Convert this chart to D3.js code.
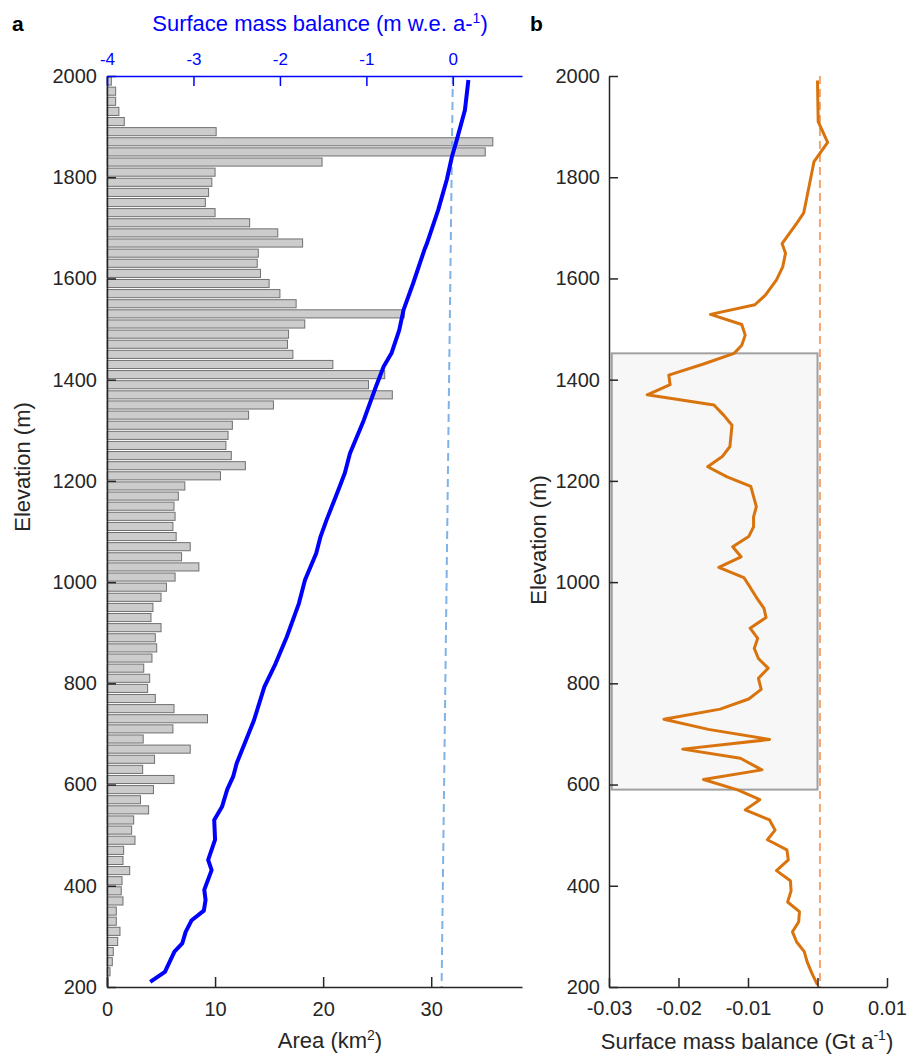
<!DOCTYPE html>
<html>
<head>
<meta charset="utf-8">
<script src="https://cdn.jsdelivr.net/npm/d3@7"></script>
<style>
  body { margin: 0; background: #fff; }
  svg { font-family: "Liberation Sans", Arial, sans-serif; }
  .tick text { fill: #262626; }
</style>
</head>
<body>
<div id="chart"></div>
<script>
// elevation bins (m, bin centres), 20 m wide
var binElev = [1990, 1970, 1950, 1930, 1910, 1890, 1870, 1850, 1830, 1810,
    1790, 1770, 1750, 1730, 1710, 1690, 1670, 1650, 1630, 1610,
    1590, 1570, 1550, 1530, 1510, 1490, 1470, 1450, 1430, 1410,
    1390, 1370, 1350, 1330, 1310, 1290, 1270, 1250, 1230, 1210,
    1190, 1170, 1150, 1130, 1110, 1090, 1070, 1050, 1030, 1010,
    990, 970, 950, 930, 910, 890, 870, 850, 830, 810,
    790, 770, 750, 730, 710, 690, 670, 650, 630, 610,
    590, 570, 550, 530, 510, 490, 470, 450, 430, 410,
    390, 370, 350, 330, 310, 290, 270, 250, 230, 210];

// glacier area per bin (km2)
var binArea = [0.4, 0.8, 0.8, 1.1, 1.6, 10.1, 35.7, 35.0, 19.9, 10.0,
    9.7, 9.4, 9.1, 10.0, 13.2, 15.8, 18.1, 14.0, 13.9, 14.2,
    15.0, 16.0, 17.5, 27.5, 18.3, 16.8, 16.7, 17.2, 20.9, 25.7,
    24.2, 26.4, 15.4, 13.1, 11.6, 11.2, 11.0, 11.5, 12.8, 10.5,
    7.2, 6.6, 6.2, 6.3, 6.1, 6.4, 7.7, 6.9, 8.5, 6.3,
    5.5, 5.0, 4.25, 4.07, 5.0, 4.47, 4.6, 4.16, 3.4, 3.95,
    3.76, 4.47, 6.2, 9.3, 6.1, 3.35, 7.7, 4.4, 3.3, 6.2,
    4.3, 3.1, 3.85, 2.47, 2.28, 2.59, 1.54, 1.48, 2.1, 1.39,
    1.32, 1.48, 0.86, 0.86, 1.2, 0.99, 0.58, 0.49, 0.28, 0.1];

// specific surface mass balance profile (m w.e. a-1)
var smbElev = [1992, 1933, 1870, 1841, 1795, 1735, 1669, 1656, 1590, 1538,
    1498, 1452, 1426, 1386, 1320, 1254, 1215, 1175, 1123, 1090,
    1057, 1004, 958, 892, 839, 793, 727, 642, 616, 590,
    556, 530, 491, 451, 431, 392, 372, 351, 332, 309,
    286, 270, 230, 210];
var smbValue = [0.18, 0.14, 0.04, -0.01, -0.07, -0.17, -0.30, -0.33, -0.46, -0.57,
    -0.62, -0.71, -0.80, -0.89, -1.03, -1.19, -1.25, -1.34, -1.46, -1.53,
    -1.58, -1.71, -1.78, -1.92, -2.05, -2.18, -2.30, -2.50, -2.54, -2.61,
    -2.67, -2.76, -2.75, -2.83, -2.79, -2.875, -2.86, -2.88, -3.02, -3.09,
    -3.13, -3.22, -3.33, -3.50];

// reference zero line of panel a (as drawn)
var zeroElev = [2000, 200];
var zeroSmb = [0, -0.13];

// total surface mass balance profile (Gt a-1)
var gtElev = [1991, 1910, 1869, 1831, 1745, 1729, 1709, 1669, 1650, 1623,
    1597, 1567, 1548, 1529, 1509, 1488, 1468, 1452, 1431, 1409,
    1390, 1370, 1350, 1330, 1310, 1268, 1248, 1228, 1208, 1189,
    1149, 1129, 1109, 1090, 1070, 1050, 1029, 1009, 990, 970,
    948, 930, 909, 889, 869, 849, 830, 810, 788, 769,
    749, 729, 709, 689, 670, 652, 629, 610, 589, 570,
    550, 530, 510, 491, 471, 451, 430, 410, 390, 368,
    349, 329, 309, 289, 270, 250, 227, 204];
var gtValue = [0.0000, 0.0001, 0.00146, -0.0005, -0.00175, -0.0020, -0.0030, -0.0051, -0.0046, -0.0050,
    -0.0059, -0.0075, -0.0090, -0.0154, -0.0109, -0.0104, -0.0109, -0.0120, -0.0164, -0.0214,
    -0.0212, -0.0245, -0.0149, -0.0135, -0.0123, -0.0126, -0.0137, -0.0158, -0.0130, -0.0096,
    -0.0088, -0.0092, -0.0092, -0.0099, -0.0122, -0.0110, -0.0142, -0.0106, -0.0097, -0.0088,
    -0.0077, -0.0074, -0.0097, -0.0086, -0.0091, -0.0085, -0.0071, -0.0085, -0.0081, -0.0099,
    -0.0140, -0.0221, -0.0157, -0.0069, -0.0194, -0.0111, -0.0080, -0.0164, -0.0114, -0.0083,
    -0.0104, -0.0069, -0.0061, -0.0072, -0.0044, -0.0042, -0.0059, -0.0039, -0.0038, -0.0043,
    -0.0026, -0.0027, -0.0036, -0.0030, -0.0019, -0.0015, -0.0008, 0.0000];

// highlighted elevation band in panel b
var bandElev = [590, 1452];
var bandGt = [-0.0296, 0];
var zeroGt = [0.00035, 0.00035];

var elevTicks = [200, 400, 600, 800, 1000, 1200, 1400, 1600, 1800, 2000];
var areaTicks = [0, 10, 20, 30];
var smbTicks = [-4, -3, -2, -1, 0];
var gtTicks = [-0.03, -0.02, -0.01, 0, 0.01];

var axisColor = "#262626";

// plain hyphen-minus like the original figure
function plain(d) { return String(d); }

var svg = d3.select("#chart")
    .append("svg")
    .attr("width", 908)
    .attr("height", 1055);

var y = d3.scaleLinear()
    .domain([200, 2000])
    .range([987, 76]);

// ---------- panel a ----------
var xArea = d3.scaleLinear().domain([0, 38.4]).range([107, 522]);
var xSmb = d3.scaleLinear().domain([-4, 0.8]).range([107, 522]);

var bars = binElev.map(function (e, i) { return { elev: e, area: binArea[i] }; });

svg.append("g")
    .selectAll("rect")
    .data(bars)
    .enter()
    .append("rect")
    .attr("x", xArea(0))
    .attr("y", function (d) { return y(d.elev + 8); })
    .attr("width", function (d) { return xArea(d.area) - xArea(0); })
    .attr("height", function (d) { return y(d.elev - 8) - y(d.elev + 8); })
    .attr("fill", "#cccccc")
    .attr("stroke", "#707070")
    .attr("stroke-width", 1);

var zeroPts = zeroElev.map(function (e, i) { return { elev: e, v: zeroSmb[i] }; });
svg.append("path")
    .datum(zeroPts)
    .attr("fill", "none")
    .attr("stroke", "#7fb3e6")
    .attr("stroke-width", 2)
    .attr("stroke-dasharray", "8,5")
    .attr("d", d3.line()
        .x(function (d) { return xSmb(d.v); })
        .y(function (d) { return y(d.elev); }));

var smbPts = smbElev.map(function (e, i) { return { elev: e, v: smbValue[i] }; });
svg.append("path")
    .datum(smbPts)
    .attr("fill", "none")
    .attr("stroke", "#0000ff")
    .attr("stroke-width", 4)
    .attr("stroke-linejoin", "round")
    .attr("d", d3.line()
        .x(function (d) { return xSmb(d.v); })
        .y(function (d) { return y(d.elev); }));

var aLeft = svg.append("g")
    .attr("transform", "translate(107,0)")
    .call(d3.axisLeft(y).tickValues(elevTicks).tickFormat(plain)
        .tickSizeInner(-9).tickSizeOuter(0).tickPadding(10));

var aBottom = svg.append("g")
    .attr("transform", "translate(0,987)")
    .call(d3.axisBottom(xArea).tickValues(areaTicks).tickFormat(plain)
        .tickSizeInner(-10).tickSizeOuter(0).tickPadding(15));

var aTop = svg.append("g")
    .attr("transform", "translate(0,76)")
    .call(d3.axisTop(xSmb).tickValues(smbTicks).tickFormat(plain)
        .tickSizeInner(-10).tickSizeOuter(0).tickPadding(11));

[aLeft, aBottom].forEach(function (g) {
    g.select(".domain").attr("stroke", axisColor).attr("stroke-width", 1.5);
    g.selectAll(".tick line").attr("stroke", axisColor).attr("stroke-width", 1.5);
    g.selectAll(".tick text").style("font-size", "20px");
});
aTop.select(".domain").attr("stroke", "#0000ff").attr("stroke-width", 1.5);
aTop.selectAll(".tick line").attr("stroke", "#0000ff").attr("stroke-width", 1.5);
aTop.selectAll(".tick text").style("font-size", "17px").style("fill", "#0000ff");

var titleA = svg.append("text")
    .attr("x", 320)
    .attr("y", 31)
    .attr("fill", "#0000ff")
    .style("font-size", "22px")
    .style("text-anchor", "middle");
titleA.append("tspan").text("Surface mass balance (m w.e. a-");
titleA.append("tspan").attr("dy", -8).style("font-size", "14px").text("1");
titleA.append("tspan").attr("dy", 8).text(")");

var areaLabel = svg.append("text")
    .attr("x", 330)
    .attr("y", 1048)
    .attr("fill", axisColor)
    .style("font-size", "22px")
    .style("text-anchor", "middle");
areaLabel.append("tspan").text("Area (km");
areaLabel.append("tspan").attr("dy", -8).style("font-size", "14px").text("2");
areaLabel.append("tspan").attr("dy", 8).text(")");

svg.append("text")
    .attr("transform", "translate(30,467) rotate(-90)")
    .attr("fill", axisColor)
    .style("font-size", "22px")
    .style("text-anchor", "middle")
    .text("Elevation (m)");

svg.append("text")
    .attr("x", 12)
    .attr("y", 31)
    .attr("font-weight", "bold")
    .style("font-size", "21px")
    .text("a");

// ---------- panel b ----------
var xGt = d3.scaleLinear().domain([-0.03, 0.01]).range([609, 887]);

svg.append("rect")
    .attr("x", xGt(bandGt[0]))
    .attr("y", y(bandElev[1]))
    .attr("width", xGt(bandGt[1]) - xGt(bandGt[0]))
    .attr("height", y(bandElev[0]) - y(bandElev[1]))
    .attr("fill", "#f7f7f7")
    .attr("stroke", "#a0a0a0")
    .attr("stroke-width", 2);

var zeroPtsB = zeroElev.map(function (e, i) { return { elev: e, v: zeroGt[i] }; });
svg.append("path")
    .datum(zeroPtsB)
    .attr("fill", "none")
    .attr("stroke", "#f6a46f")
    .attr("stroke-width", 2)
    .attr("stroke-dasharray", "8,5")
    .attr("d", d3.line()
        .x(function (d) { return xGt(d.v); })
        .y(function (d) { return y(d.elev); }));

var gtPts = gtElev.map(function (e, i) { return { elev: e, v: gtValue[i] }; });
svg.append("path")
    .datum(gtPts)
    .attr("fill", "none")
    .attr("stroke", "#d9730d")
    .attr("stroke-width", 3)
    .attr("stroke-linejoin", "round")
    .attr("d", d3.line()
        .x(function (d) { return xGt(d.v); })
        .y(function (d) { return y(d.elev); }));

var bLeft = svg.append("g")
    .attr("transform", "translate(609,0)")
    .call(d3.axisLeft(y).tickValues(elevTicks).tickFormat(plain)
        .tickSizeInner(-9).tickSizeOuter(0).tickPadding(9));

var bBottom = svg.append("g")
    .attr("transform", "translate(0,987)")
    .call(d3.axisBottom(xGt).tickValues(gtTicks).tickFormat(plain)
        .tickSizeInner(-9).tickSizeOuter(0).tickPadding(14));

[bLeft, bBottom].forEach(function (g) {
    g.select(".domain").attr("stroke", axisColor).attr("stroke-width", 1.5);
    g.selectAll(".tick line").attr("stroke", axisColor).attr("stroke-width", 1.5);
    g.selectAll(".tick text").style("font-size", "20px");
});

var gtLabel = svg.append("text")
    .attr("x", 747)
    .attr("y", 1049)
    .attr("fill", axisColor)
    .style("font-size", "22px")
    .style("text-anchor", "middle");
gtLabel.append("tspan").text("Surface mass balance (Gt a");
gtLabel.append("tspan").attr("dy", -9).style("font-size", "14px").text("-1");
gtLabel.append("tspan").attr("dy", 9).text(")");

svg.append("text")
    .attr("transform", "translate(546,540) rotate(-90)")
    .attr("fill", axisColor)
    .style("font-size", "22px")
    .style("text-anchor", "middle")
    .text("Elevation (m)");

svg.append("text")
    .attr("x", 530)
    .attr("y", 31)
    .attr("font-weight", "bold")
    .style("font-size", "21px")
    .text("b");
</script>
</body>
</html>
